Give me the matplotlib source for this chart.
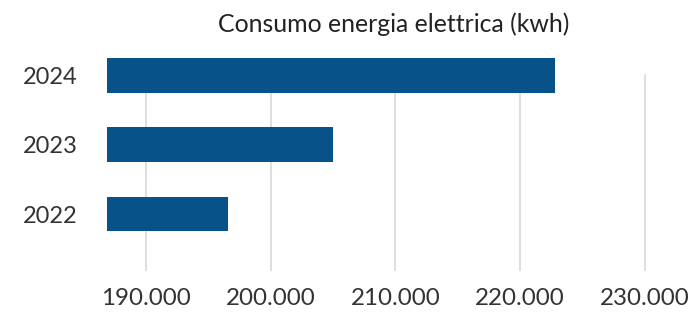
import matplotlib
matplotlib.use("Agg")
import matplotlib.pyplot as plt
from matplotlib.ticker import FuncFormatter

years = ["2022", "2023", "2024"]
consumo = [196600, 205000, 222800]
xticks = [190000, 200000, 210000, 220000, 230000]
title = "Consumo energia elettrica (kwh)"

W, H = 693, 313
fig = plt.figure(figsize=(W / 100, H / 100), dpi=100)
plt.rcParams['font.family'] = ['Lato', 'DejaVu Sans']

# axes: left 107, right 660, top 58, bottom 271 (px)
L, R, T, B = 107, 660, 58, 271
ax = fig.add_axes([L / W, 1 - B / H, (R - L) / W, (B - T) / H])

bar_color = "#08528a"
ypos = list(range(len(years)))
ax.barh(ypos, consumo, height=0.5, color=bar_color, zorder=3)

# x scale: 190000 at px 146, 10000 per 124.7 px
px_per = 124.7 / 10000
xmin = 190000 - (146 - L) / px_per
xmax = 190000 + (R - 146) / px_per
ax.set_xlim(xmin, xmax)
ax.set_ylim(-0.82, 2.25)

gy = (B - 75) / (B - T)
for xv in xticks:
    ax.axvline(xv, ymin=0, ymax=gy, color="#d4d4d4", linewidth=1.1, zorder=1)

ax.set_xticks(xticks)
ax.xaxis.set_major_formatter(FuncFormatter(lambda v, p: f"{int(v):,}".replace(",", ".")))
ax.set_yticks(ypos)
ax.set_yticklabels(years)
ax.tick_params(axis="x", length=0, pad=12, labelsize=17.4, labelcolor="#333333")
ax.tick_params(axis="y", length=0, pad=21, labelsize=17, labelcolor="#333333")
for s in ax.spines.values():
    s.set_visible(False)

fig.text(394 / W, 1 - 24 / H, title, ha="center", va="center", fontsize=17.9, color="#222222")

fig.savefig("out.png", dpi=100, facecolor="white")
